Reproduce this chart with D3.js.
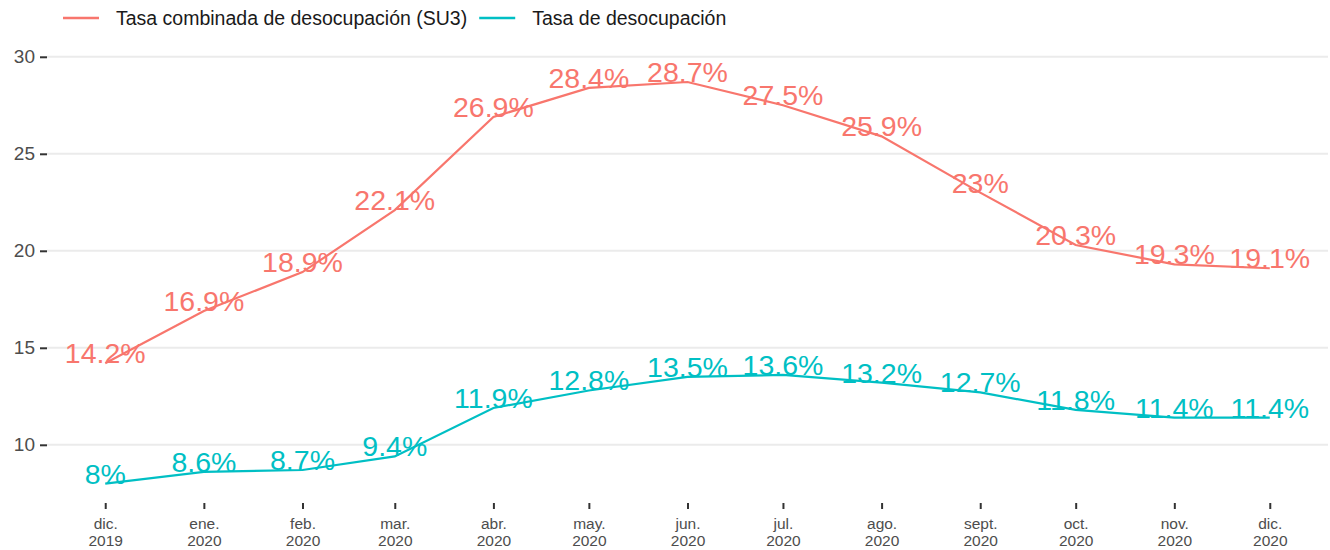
<!DOCTYPE html>
<html>
<head>
<meta charset="utf-8">
<script src="https://cdn.jsdelivr.net/npm/d3@7"></script>
<style>
  body { margin: 0; background: #fff; }
  text { font-family: "Liberation Sans", Arial, sans-serif; }
</style>
</head>
<body>
<div class="chart"></div>
<script>
// data
var months = ["2019-12-01", "2020-01-01", "2020-02-01", "2020-03-01", "2020-04-01", "2020-05-01",
              "2020-06-01", "2020-07-01", "2020-08-01", "2020-09-01", "2020-10-01", "2020-11-01", "2020-12-01"];
var monthLabels = ["dic.", "ene.", "feb.", "mar.", "abr.", "may.", "jun.", "jul.", "ago.", "sept.", "oct.", "nov.", "dic."];
var su3 = [14.2, 16.9, 18.9, 22.1, 26.9, 28.4, 28.7, 27.5, 25.9, 23, 20.3, 19.3, 19.1];
var desoc = [8, 8.6, 8.7, 9.4, 11.9, 12.8, 13.5, 13.6, 13.2, 12.7, 11.8, 11.4, 11.4];
var yTicks = [10, 15, 20, 25, 30];
var seriesNames = ["Tasa combinada de desocupación (SU3)", "Tasa de desocupación"];
var colors = ["#F8766D", "#00BFC4"];

var width = 1330, height = 550;
var panel = {left: 47, right: 1328, top: 50, bottom: 503};

var svg = d3.select(".chart").append("svg")
    .attr("width", width)
    .attr("height", height);

var parse = d3.timeParse("%Y-%m-%d");
var dates = months.map(parse);

// ggplot-like 5% expansion on x
var t0 = dates[0].getTime(), t1 = dates[dates.length - 1].getTime();
var pad = (t1 - t0) * 0.05;
var x = d3.scaleTime()
    .domain([new Date(t0 - pad), new Date(t1 + pad)])
    .range([panel.left, panel.right]);

var y = d3.scaleLinear()
    .domain([7, 30.35])
    .range([panel.bottom, panel.top]);

// grid
svg.append("g")
    .selectAll("line")
    .data(yTicks)
    .join("line")
    .attr("x1", panel.left)
    .attr("x2", panel.right)
    .attr("y1", d => y(d))
    .attr("y2", d => y(d))
    .attr("stroke", "#ebebeb")
    .attr("stroke-width", 2);

// y axis
var yAxis = svg.append("g")
    .attr("transform", "translate(" + panel.left + ",0)")
    .call(d3.axisLeft(y).tickValues(yTicks).tickSize(7).tickPadding(5));
yAxis.select(".domain").remove();
yAxis.selectAll(".tick line").attr("stroke", "#333").attr("stroke-width", 2);
yAxis.selectAll(".tick text")
    .attr("fill", "#4d4d4d")
    .style("font-size", "19px");

// x axis
var xAxis = svg.append("g")
    .attr("transform", "translate(0," + panel.bottom + ")")
    .call(d3.axisBottom(x).tickValues(dates).tickSize(6).tickFormat(""));
xAxis.select(".domain").remove();
xAxis.selectAll(".tick line").attr("stroke", "#333").attr("stroke-width", 2);
xAxis.selectAll(".tick").each(function(d, i) {
    var t = d3.select(this).append("text")
        .attr("fill", "#4d4d4d")
        .attr("text-anchor", "middle")
        .style("font-size", "15.5px");
    t.append("tspan").attr("x", 0).attr("y", 26).text(monthLabels[i]);
    t.append("tspan").attr("x", 0).attr("y", 43).text(d.getFullYear());
});

// lines and labels
var series = [su3, desoc];
var line = d3.line()
    .x((d, i) => x(dates[i]))
    .y(d => y(d));

series.forEach(function(vals, k) {
    svg.append("path")
        .datum(vals)
        .attr("d", line)
        .attr("fill", "none")
        .attr("stroke", colors[k])
        .attr("stroke-width", 2.2);

    svg.append("g")
        .selectAll("text")
        .data(vals)
        .join("text")
        .attr("x", (d, i) => x(dates[i]))
        .attr("y", d => y(d))
        .attr("text-anchor", "middle")
        .attr("fill", colors[k])
        .style("font-size", "28.5px")
        .text(d => d + "%");
});

// legend
var legend = svg.append("g").attr("transform", "translate(63,18)");
var lx = 0;
seriesNames.forEach(function(name, k) {
    var g = legend.append("g").attr("transform", "translate(" + lx + ",0)");
    g.append("line")
        .attr("x1", 0).attr("x2", 36)
        .attr("stroke", colors[k])
        .attr("stroke-width", 2.5);
    var t = g.append("text")
        .attr("x", 53)
        .attr("y", 7)
        .attr("fill", "#1a1a1a")
        .style("font-size", "19.5px")
        .text(name);
    lx += 53 + t.node().getComputedTextLength() + 12;
});
</script>
</body>
</html>
